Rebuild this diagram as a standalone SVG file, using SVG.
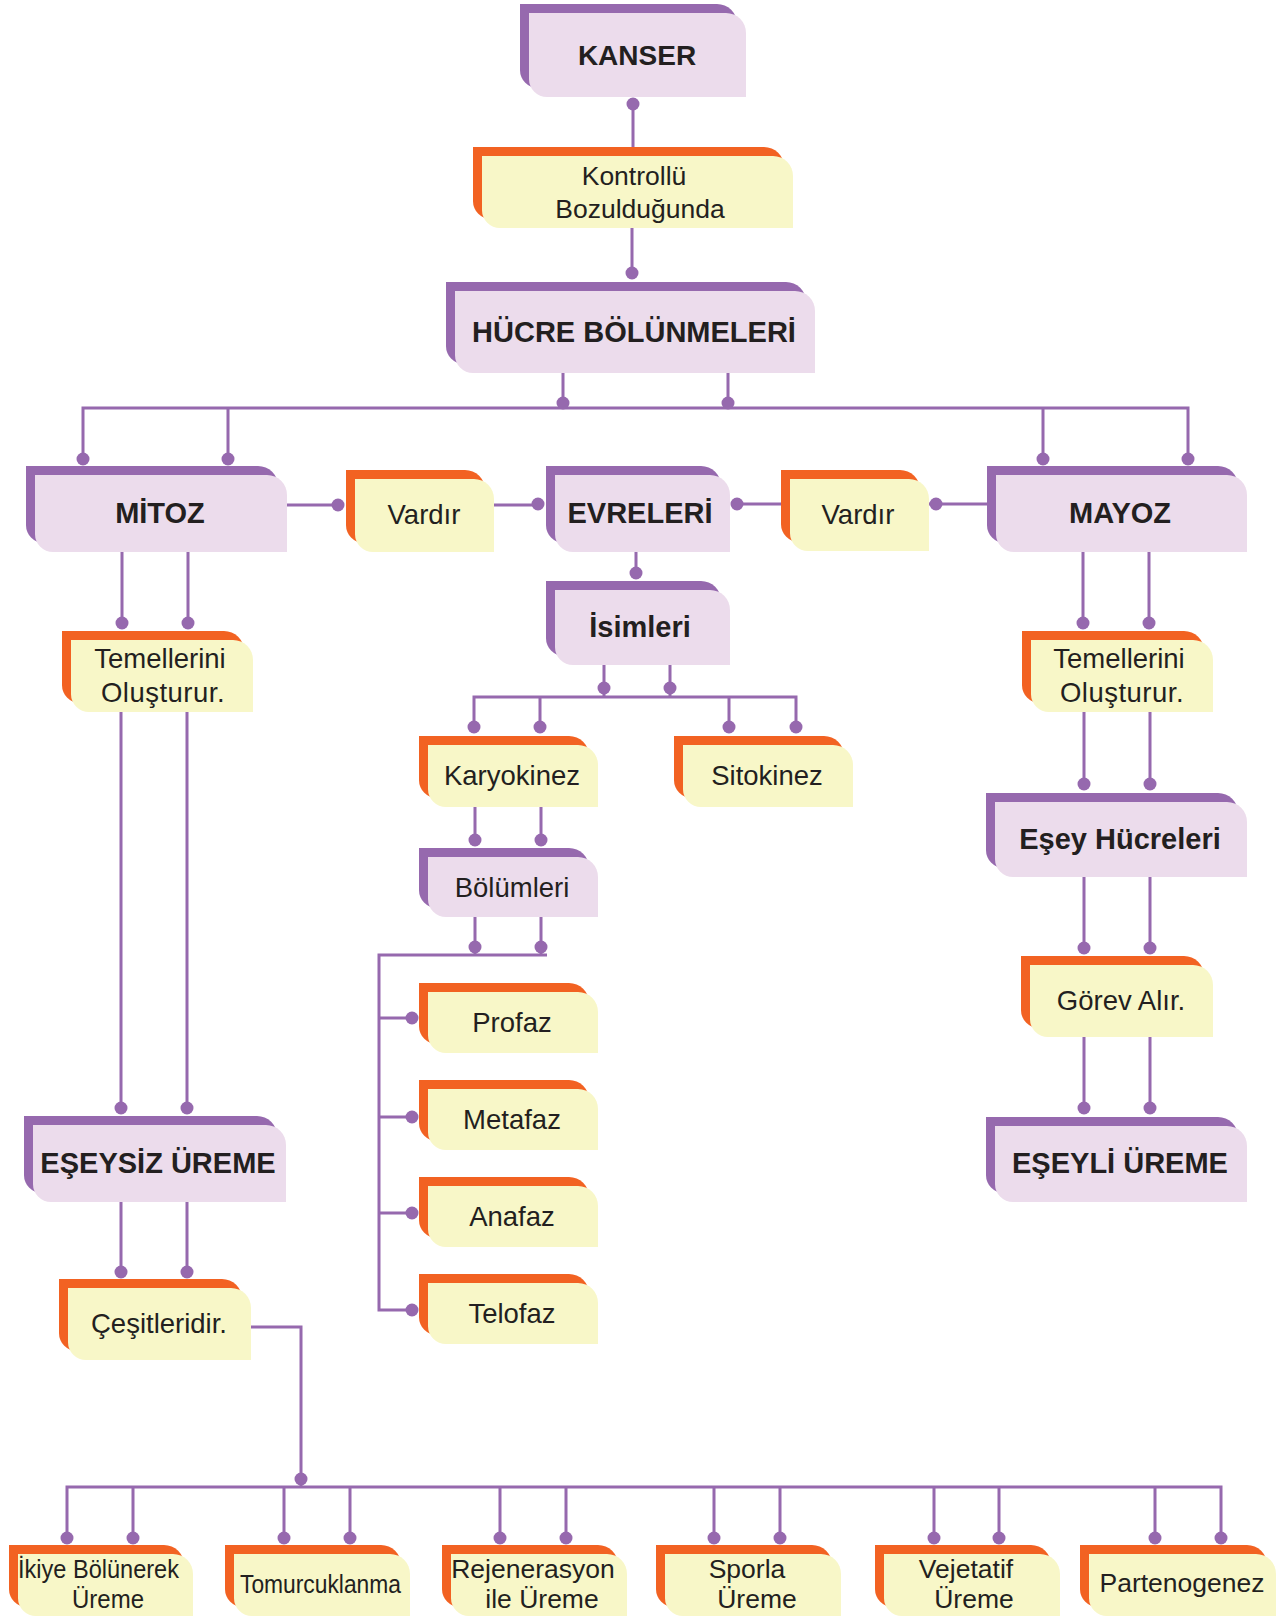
<svg xmlns="http://www.w3.org/2000/svg" width="1276" height="1617" viewBox="0 0 1276 1617">
<style>
.pb{fill:#9669AE}.pf{fill:#ECDCEC}.ob{fill:#F26222}.of{fill:#F8F7C8}
.c{stroke:#9669AE;stroke-width:3;fill:none}
.d{fill:#9669AE}
.t{font-family:"Liberation Sans",Arial,Helvetica,sans-serif;fill:#231F20;text-anchor:middle;font-size:27.5px}
.b{font-weight:bold;font-size:29px}
.s{font-size:26.5px}
</style>
<rect width="1276" height="1617" fill="#FFFFFF"/>
<g id="connectors">
<path class="c" d="M633,104 V147 M632,228 V273 M563,373 V408 M728,373 V408 M83,459 V408 H1188 V459 M228,408 V459 M1043,408 V459 M287,505 H338 M494,505 H538 M737,504 H790 M929,504 H987 M636,552 V573 M604,665 V697 M670,665 V697 M474,727 V697 H796 V727 M540,697 V727 M729,697 V727 M475,807 V840 M541,807 V840 M475,917 V955 M541,917 V955 M547,955 H379 V1310 H412 M379,1018 H412 M379,1117 H412 M379,1213 H412 M122,552 V623 M188,552 V623 M121,712 V1108 M187,712 V1108 M121,1202 V1272 M187,1202 V1272 M251,1327 H301 V1487 M67,1538 V1487 H1221 V1538 M133,1487 V1538 M284,1487 V1538 M350,1487 V1538 M500,1487 V1538 M566,1487 V1538 M714,1487 V1538 M780,1487 V1538 M934,1487 V1538 M999,1487 V1538 M1155,1487 V1538 M1083,552 V623 M1149,552 V623 M1084,712 V784 M1150,712 V784 M1084,877 V948 M1150,877 V948 M1084,1037 V1108 M1150,1037 V1108"/>
<g class="d">
<circle cx="633" cy="104" r="6.5"/><circle cx="632" cy="273" r="6.5"/><circle cx="563" cy="403" r="6.5"/><circle cx="728" cy="403" r="6.5"/>
<circle cx="83" cy="459" r="6.5"/><circle cx="228" cy="459" r="6.5"/><circle cx="1043" cy="459" r="6.5"/><circle cx="1188" cy="459" r="6.5"/>
<circle cx="338" cy="505" r="6.5"/><circle cx="538" cy="504" r="6.5"/><circle cx="737" cy="504" r="6.5"/><circle cx="936" cy="504" r="6.5"/>
<circle cx="636" cy="573" r="6.5"/><circle cx="604" cy="688" r="6.5"/><circle cx="670" cy="688" r="6.5"/>
<circle cx="474" cy="727" r="6.5"/><circle cx="540" cy="727" r="6.5"/><circle cx="729" cy="727" r="6.5"/><circle cx="796" cy="727" r="6.5"/>
<circle cx="475" cy="840" r="6.5"/><circle cx="541" cy="840" r="6.5"/><circle cx="475" cy="947" r="6.5"/><circle cx="541" cy="947" r="6.5"/>
<circle cx="412" cy="1018" r="6.5"/><circle cx="412" cy="1117" r="6.5"/><circle cx="412" cy="1213" r="6.5"/><circle cx="412" cy="1310" r="6.5"/>
<circle cx="122" cy="623" r="6.5"/><circle cx="188" cy="623" r="6.5"/><circle cx="121" cy="1108" r="6.5"/><circle cx="187" cy="1108" r="6.5"/>
<circle cx="121" cy="1272" r="6.5"/><circle cx="187" cy="1272" r="6.5"/><circle cx="301" cy="1479" r="6.5"/>
<circle cx="67" cy="1538" r="6.5"/><circle cx="133" cy="1538" r="6.5"/><circle cx="284" cy="1538" r="6.5"/><circle cx="350" cy="1538" r="6.5"/>
<circle cx="500" cy="1538" r="6.5"/><circle cx="566" cy="1538" r="6.5"/><circle cx="714" cy="1538" r="6.5"/><circle cx="780" cy="1538" r="6.5"/>
<circle cx="934" cy="1538" r="6.5"/><circle cx="999" cy="1538" r="6.5"/><circle cx="1155" cy="1538" r="6.5"/><circle cx="1221" cy="1538" r="6.5"/>
<circle cx="1083" cy="623" r="6.5"/><circle cx="1149" cy="623" r="6.5"/><circle cx="1084" cy="784" r="6.5"/><circle cx="1150" cy="784" r="6.5"/>
<circle cx="1084" cy="948" r="6.5"/><circle cx="1150" cy="948" r="6.5"/><circle cx="1084" cy="1108" r="6.5"/><circle cx="1150" cy="1108" r="6.5"/>
</g>
</g>

<g id="kanser" transform="translate(529,13)">
<path class="pb" d="M-9,-9 H188 A20,20 0 0 1 208,11 V75 H9 A18,18 0 0 1 -9,57 Z"/>
<path class="pf" d="M0,0 H197 A20,20 0 0 1 217,20 V84 H18 A18,18 0 0 1 0,66 Z"/>
<text class="t b" x="108" y="52" style="font-size:28px">KANSER</text>
</g>
<g id="kontrollu" transform="translate(482,156)">
<path class="ob" d="M-9,-9 H282 A20,20 0 0 1 302,11 V63 H9 A18,18 0 0 1 -9,45 Z"/>
<path class="of" d="M0,0 H291 A20,20 0 0 1 311,20 V72 H18 A18,18 0 0 1 0,54 Z"/>
<text class="t" x="152" y="29" style="font-size:26.5px">Kontrollü</text>
<text class="t" x="158" y="62" style="font-size:26.5px">Bozulduğunda</text>
</g>
<g id="hucre" transform="translate(455,291)">
<path class="pb" d="M-9,-9 H331 A20,20 0 0 1 351,11 V73 H9 A18,18 0 0 1 -9,55 Z"/>
<path class="pf" d="M0,0 H340 A20,20 0 0 1 360,20 V82 H18 A18,18 0 0 1 0,64 Z"/>
<text class="t b" x="179" y="51">HÜCRE BÖLÜNMELERİ</text>
</g>
<g id="mitoz" transform="translate(35,475)">
<path class="pb" d="M-9,-9 H223 A20,20 0 0 1 243,11 V68 H9 A18,18 0 0 1 -9,50 Z"/>
<path class="pf" d="M0,0 H232 A20,20 0 0 1 252,20 V77 H18 A18,18 0 0 1 0,59 Z"/>
<text class="t b" x="125" y="48">MİTOZ</text>
</g>
<g id="vardir1" transform="translate(355,479)">
<path class="ob" d="M-9,-9 H110 A20,20 0 0 1 130,11 V64 H9 A18,18 0 0 1 -9,46 Z"/>
<path class="of" d="M0,0 H119 A20,20 0 0 1 139,20 V73 H18 A18,18 0 0 1 0,55 Z"/>
<text class="t" x="69" y="45">Vardır</text>
</g>
<g id="evreleri" transform="translate(555,475)">
<path class="pb" d="M-9,-9 H146 A20,20 0 0 1 166,11 V68 H9 A18,18 0 0 1 -9,50 Z"/>
<path class="pf" d="M0,0 H155 A20,20 0 0 1 175,20 V77 H18 A18,18 0 0 1 0,59 Z"/>
<text class="t b" x="85" y="48">EVRELERİ</text>
</g>
<g id="vardir2" transform="translate(790,479)">
<path class="ob" d="M-9,-9 H110 A20,20 0 0 1 130,11 V63 H9 A18,18 0 0 1 -9,45 Z"/>
<path class="of" d="M0,0 H119 A20,20 0 0 1 139,20 V72 H18 A18,18 0 0 1 0,54 Z"/>
<text class="t" x="68" y="45">Vardır</text>
</g>
<g id="mayoz" transform="translate(996,475)">
<path class="pb" d="M-9,-9 H222 A20,20 0 0 1 242,11 V68 H9 A18,18 0 0 1 -9,50 Z"/>
<path class="pf" d="M0,0 H231 A20,20 0 0 1 251,20 V77 H18 A18,18 0 0 1 0,59 Z"/>
<text class="t b" x="124" y="48">MAYOZ</text>
</g>
<g id="isimleri" transform="translate(555,590)">
<path class="pb" d="M-9,-9 H146 A20,20 0 0 1 166,11 V66 H9 A18,18 0 0 1 -9,48 Z"/>
<path class="pf" d="M0,0 H155 A20,20 0 0 1 175,20 V75 H18 A18,18 0 0 1 0,57 Z"/>
<text class="t b" x="85" y="47">İsimleri</text>
</g>
<g id="temellerini1" transform="translate(71,640)">
<path class="ob" d="M-9,-9 H153 A20,20 0 0 1 173,11 V63 H9 A18,18 0 0 1 -9,45 Z"/>
<path class="of" d="M0,0 H162 A20,20 0 0 1 182,20 V72 H18 A18,18 0 0 1 0,54 Z"/>
<text class="t" x="89" y="28">Temellerini</text>
<text class="t" x="92" y="62" style="letter-spacing:0.5px">Oluşturur.</text>
</g>
<g id="temellerini2" transform="translate(1031,640)">
<path class="ob" d="M-9,-9 H153 A20,20 0 0 1 173,11 V63 H9 A18,18 0 0 1 -9,45 Z"/>
<path class="of" d="M0,0 H162 A20,20 0 0 1 182,20 V72 H18 A18,18 0 0 1 0,54 Z"/>
<text class="t" x="88" y="28">Temellerini</text>
<text class="t" x="91" y="62" style="letter-spacing:0.5px">Oluşturur.</text>
</g>
<g id="karyokinez" transform="translate(428,745)">
<path class="ob" d="M-9,-9 H141 A20,20 0 0 1 161,11 V53 H9 A18,18 0 0 1 -9,35 Z"/>
<path class="of" d="M0,0 H150 A20,20 0 0 1 170,20 V62 H18 A18,18 0 0 1 0,44 Z"/>
<text class="t" x="84" y="40">Karyokinez</text>
</g>
<g id="sitokinez" transform="translate(683,745)">
<path class="ob" d="M-9,-9 H141 A20,20 0 0 1 161,11 V53 H9 A18,18 0 0 1 -9,35 Z"/>
<path class="of" d="M0,0 H150 A20,20 0 0 1 170,20 V62 H18 A18,18 0 0 1 0,44 Z"/>
<text class="t" x="84" y="40">Sitokinez</text>
</g>
<g id="bolumleri" transform="translate(428,857)">
<path class="pb" d="M-9,-9 H141 A20,20 0 0 1 161,11 V51 H9 A18,18 0 0 1 -9,33 Z"/>
<path class="pf" d="M0,0 H150 A20,20 0 0 1 170,20 V60 H18 A18,18 0 0 1 0,42 Z"/>
<text class="t" x="84" y="40">Bölümleri</text>
</g>
<g id="profaz" transform="translate(428,992)">
<path class="ob" d="M-9,-9 H141 A20,20 0 0 1 161,11 V52 H9 A18,18 0 0 1 -9,34 Z"/>
<path class="of" d="M0,0 H150 A20,20 0 0 1 170,20 V61 H18 A18,18 0 0 1 0,43 Z"/>
<text class="t" x="84" y="40">Profaz</text>
</g>
<g id="metafaz" transform="translate(428,1089)">
<path class="ob" d="M-9,-9 H141 A20,20 0 0 1 161,11 V52 H9 A18,18 0 0 1 -9,34 Z"/>
<path class="of" d="M0,0 H150 A20,20 0 0 1 170,20 V61 H18 A18,18 0 0 1 0,43 Z"/>
<text class="t" x="84" y="40">Metafaz</text>
</g>
<g id="anafaz" transform="translate(428,1186)">
<path class="ob" d="M-9,-9 H141 A20,20 0 0 1 161,11 V52 H9 A18,18 0 0 1 -9,34 Z"/>
<path class="of" d="M0,0 H150 A20,20 0 0 1 170,20 V61 H18 A18,18 0 0 1 0,43 Z"/>
<text class="t" x="84" y="40">Anafaz</text>
</g>
<g id="telofaz" transform="translate(428,1283)">
<path class="ob" d="M-9,-9 H141 A20,20 0 0 1 161,11 V52 H9 A18,18 0 0 1 -9,34 Z"/>
<path class="of" d="M0,0 H150 A20,20 0 0 1 170,20 V61 H18 A18,18 0 0 1 0,43 Z"/>
<text class="t" x="84" y="40">Telofaz</text>
</g>
<g id="esey-hucreleri" transform="translate(995,802)">
<path class="pb" d="M-9,-9 H223 A20,20 0 0 1 243,11 V66 H9 A18,18 0 0 1 -9,48 Z"/>
<path class="pf" d="M0,0 H232 A20,20 0 0 1 252,20 V75 H18 A18,18 0 0 1 0,57 Z"/>
<text class="t b" x="125" y="47">Eşey Hücreleri</text>
</g>
<g id="gorev-alir" transform="translate(1030,965)">
<path class="ob" d="M-9,-9 H154 A20,20 0 0 1 174,11 V63 H9 A18,18 0 0 1 -9,45 Z"/>
<path class="of" d="M0,0 H163 A20,20 0 0 1 183,20 V72 H18 A18,18 0 0 1 0,54 Z"/>
<text class="t" x="91" y="45">Görev Alır.</text>
</g>
<g id="eseyli-ureme" transform="translate(995,1126)">
<path class="pb" d="M-9,-9 H223 A20,20 0 0 1 243,11 V67 H9 A18,18 0 0 1 -9,49 Z"/>
<path class="pf" d="M0,0 H232 A20,20 0 0 1 252,20 V76 H18 A18,18 0 0 1 0,58 Z"/>
<text class="t b" x="125" y="47">EŞEYLİ ÜREME</text>
</g>
<g id="eseysiz-ureme" transform="translate(33,1125)">
<path class="pb" d="M-9,-9 H224 A20,20 0 0 1 244,11 V68 H9 A18,18 0 0 1 -9,50 Z"/>
<path class="pf" d="M0,0 H233 A20,20 0 0 1 253,20 V77 H18 A18,18 0 0 1 0,59 Z"/>
<text class="t b" x="125" y="48">EŞEYSİZ ÜREME</text>
</g>
<g id="cesitleridir" transform="translate(68,1288)">
<path class="ob" d="M-9,-9 H154 A20,20 0 0 1 174,11 V63 H9 A18,18 0 0 1 -9,45 Z"/>
<path class="of" d="M0,0 H163 A20,20 0 0 1 183,20 V72 H18 A18,18 0 0 1 0,54 Z"/>
<text class="t" x="91" y="45">Çeşitleridir.</text>
</g>
<g id="ikiye" transform="translate(18,1554)">
<path class="ob" d="M-9,-9 H146 A20,20 0 0 1 166,11 V53 H9 A18,18 0 0 1 -9,35 Z"/>
<path class="of" d="M0,0 H155 A20,20 0 0 1 175,20 V62 H18 A18,18 0 0 1 0,44 Z"/>
<text class="t s" x="0" y="24" style="text-anchor:start" textLength="161" lengthAdjust="spacingAndGlyphs">İkiye Bölünerek</text>
<text class="t s" x="90" y="54" textLength="72" lengthAdjust="spacingAndGlyphs">Üreme</text>
</g>
<g id="tomurcuklanma" transform="translate(234,1554)">
<path class="ob" d="M-9,-9 H147 A20,20 0 0 1 167,11 V53 H9 A18,18 0 0 1 -9,35 Z"/>
<path class="of" d="M0,0 H156 A20,20 0 0 1 176,20 V62 H18 A18,18 0 0 1 0,44 Z"/>
<text class="t s" x="6" y="39" style="text-anchor:start" textLength="161" lengthAdjust="spacingAndGlyphs">Tomurcuklanma</text>
</g>
<g id="rejenerasyon" transform="translate(451,1554)">
<path class="ob" d="M-9,-9 H147 A20,20 0 0 1 167,11 V53 H9 A18,18 0 0 1 -9,35 Z"/>
<path class="of" d="M0,0 H156 A20,20 0 0 1 176,20 V62 H18 A18,18 0 0 1 0,44 Z"/>
<text class="t s" x="82" y="24">Rejenerasyon</text>
<text class="t s" x="91" y="54">ile Üreme</text>
</g>
<g id="sporla" transform="translate(665,1554)">
<path class="ob" d="M-9,-9 H147 A20,20 0 0 1 167,11 V53 H9 A18,18 0 0 1 -9,35 Z"/>
<path class="of" d="M0,0 H156 A20,20 0 0 1 176,20 V62 H18 A18,18 0 0 1 0,44 Z"/>
<text class="t s" x="82" y="24">Sporla</text>
<text class="t s" x="92" y="54">Üreme</text>
</g>
<g id="vejetatif" transform="translate(884,1554)">
<path class="ob" d="M-9,-9 H147 A20,20 0 0 1 167,11 V53 H9 A18,18 0 0 1 -9,35 Z"/>
<path class="of" d="M0,0 H156 A20,20 0 0 1 176,20 V62 H18 A18,18 0 0 1 0,44 Z"/>
<text class="t s" x="82" y="24">Vejetatif</text>
<text class="t s" x="90" y="54">Üreme</text>
</g>
<g id="partenogenez" transform="translate(1089,1554)">
<path class="ob" d="M-9,-9 H158 A20,20 0 0 1 178,11 V53 H9 A18,18 0 0 1 -9,35 Z"/>
<path class="of" d="M0,0 H167 A20,20 0 0 1 187,20 V62 H18 A18,18 0 0 1 0,44 Z"/>
<text class="t s" x="93" y="38">Partenogenez</text>
</g>
</svg>
